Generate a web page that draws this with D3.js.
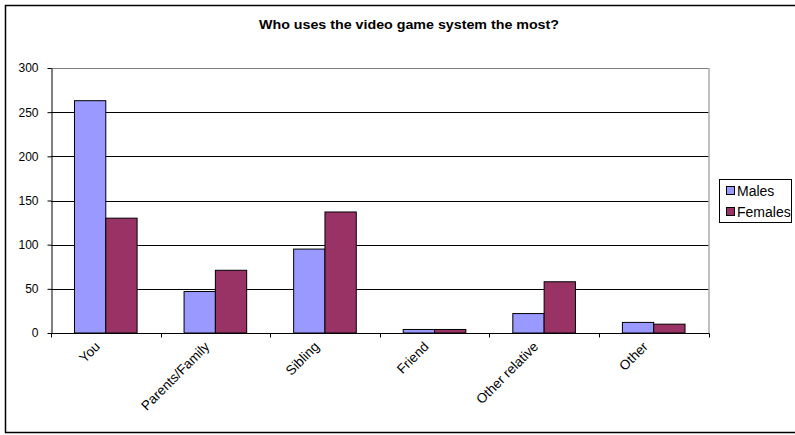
<!DOCTYPE html>
<html>
<head>
<meta charset="utf-8">
<script src="https://cdn.jsdelivr.net/npm/d3@7"></script>
<style>
  html, body { margin: 0; padding: 0; background: #fff; }
  svg { display: block; font-family: "Liberation Sans", Arial, sans-serif; }
</style>
</head>
<body>
<svg id="chart" width="795" height="435"></svg>
<script>
// Survey answers: who uses the video game system the most
const categories = ["You", "Parents/Family", "Sibling", "Friend", "Other relative", "Other"];
const males   = [263, 47, 95, 4, 22, 12];
const females = [130, 71, 137, 4, 58, 10];
const seriesNames = ["Males", "Females"];
const yTicks = [0, 50, 100, 150, 200, 250, 300];
const chartTitle = "Who uses the video game system the most?";

const colors = ["#9999FF", "#993366"];
const seriesValues = [males, females];

const svg = d3.select("#chart");
const plot = { left: 51, right: 708.5, top: 68, bottom: 333 };

// Outer chart frame
svg.append("rect")
  .attr("x", 5.5).attr("y", 5.5)
  .attr("width", 800).attr("height", 427)
  .attr("fill", "#fff")
  .attr("stroke", "#000").attr("stroke-width", 1.5);

// Title
svg.append("text")
  .attr("x", 409).attr("y", 29)
  .attr("text-anchor", "middle")
  .attr("font-weight", "bold")
  .attr("font-size", 12)
  .attr("textLength", 300)
  .attr("lengthAdjust", "spacingAndGlyphs")
  .text(chartTitle);

const x = d3.scaleBand()
  .domain(categories)
  .range([plot.left, plot.right]);

const y = d3.scaleLinear()
  .domain([0, 300])
  .range([plot.bottom, plot.top]);

// Bars inside each category: width = step / 3.5 (150% gap)
const barW = x.step() / 3.5;
const gap = barW * 0.75;

// Gridlines
svg.append("g")
  .selectAll("line")
  .data(yTicks.filter(d => d > 0))
  .join("line")
  .attr("x1", plot.left).attr("x2", plot.right)
  .attr("y1", d => Math.round(y(d)) + 0.5).attr("y2", d => Math.round(y(d)) + 0.5)
  .attr("stroke", d => d === 300 ? "#808080" : "#000")
  .attr("stroke-width", 1);

// Right border of plot area
svg.append("line")
  .attr("x1", plot.right + 0.5).attr("x2", plot.right + 0.5)
  .attr("y1", plot.top).attr("y2", plot.bottom)
  .attr("stroke", "#808080");

// Bars
seriesValues.forEach((vals, si) => {
  svg.append("g")
    .selectAll("rect")
    .data(categories.map((c, i) => ({ c, v: vals[i] })))
    .join("rect")
    .attr("x", d => x(d.c) + gap + si * barW)
    .attr("y", d => y(d.v))
    .attr("width", barW)
    .attr("height", d => y(0) - y(d.v))
    .attr("fill", colors[si])
    .attr("stroke", "#000")
    .attr("stroke-width", 1);
});

// Y axis
const yAxis = svg.append("g")
  .attr("transform", `translate(${plot.left + 0.5},0)`)
  .call(d3.axisLeft(y).tickValues(yTicks).tickSize(4).tickPadding(9).tickSizeOuter(0));
yAxis.select(".domain").attr("stroke", "#000");
yAxis.selectAll(".tick line").attr("stroke", "#000");
yAxis.selectAll(".tick text")
  .attr("font-size", 12)
  .attr("font-family", "Liberation Sans, Arial, sans-serif")
  .attr("fill", "#000");

// X axis with ticks at category boundaries
const xAxisG = svg.append("g").attr("transform", `translate(0,${plot.bottom + 0.5})`);
xAxisG.append("line")
  .attr("x1", plot.left).attr("x2", plot.right + 1)
  .attr("stroke", "#000");
const bounds = categories.map(c => x(c)).concat([plot.right]);
xAxisG.selectAll("line.tk")
  .data(bounds)
  .join("line")
  .attr("class", "tk")
  .attr("x1", d => Math.round(d) + 0.5).attr("x2", d => Math.round(d) + 0.5)
  .attr("y1", 0).attr("y2", 4)
  .attr("stroke", "#000");

// Rotated category labels
xAxisG.selectAll("text")
  .data(categories)
  .join("text")
  .attr("transform", c => `translate(${x(c) + x.bandwidth() / 2 - 5},${14}) rotate(-45)`)
  .attr("text-anchor", "end")
  .attr("font-size", 13.5)
  .text(c => c);

// Legend
const lg = svg.append("g");
lg.append("rect")
  .attr("x", 719.5).attr("y", 179.5)
  .attr("width", 72).attr("height", 43)
  .attr("fill", "#fff").attr("stroke", "#000");
seriesNames.forEach((name, i) => {
  const cy = 191 + i * 21;
  lg.append("rect")
    .attr("x", 726.5).attr("y", cy - 4.5)
    .attr("width", 8).attr("height", 8)
    .attr("fill", colors[i]).attr("stroke", "#000");
  lg.append("text")
    .attr("x", 737).attr("y", cy + 5)
    .attr("font-size", 14)
    .text(name);
});
</script>
</body>
</html>
